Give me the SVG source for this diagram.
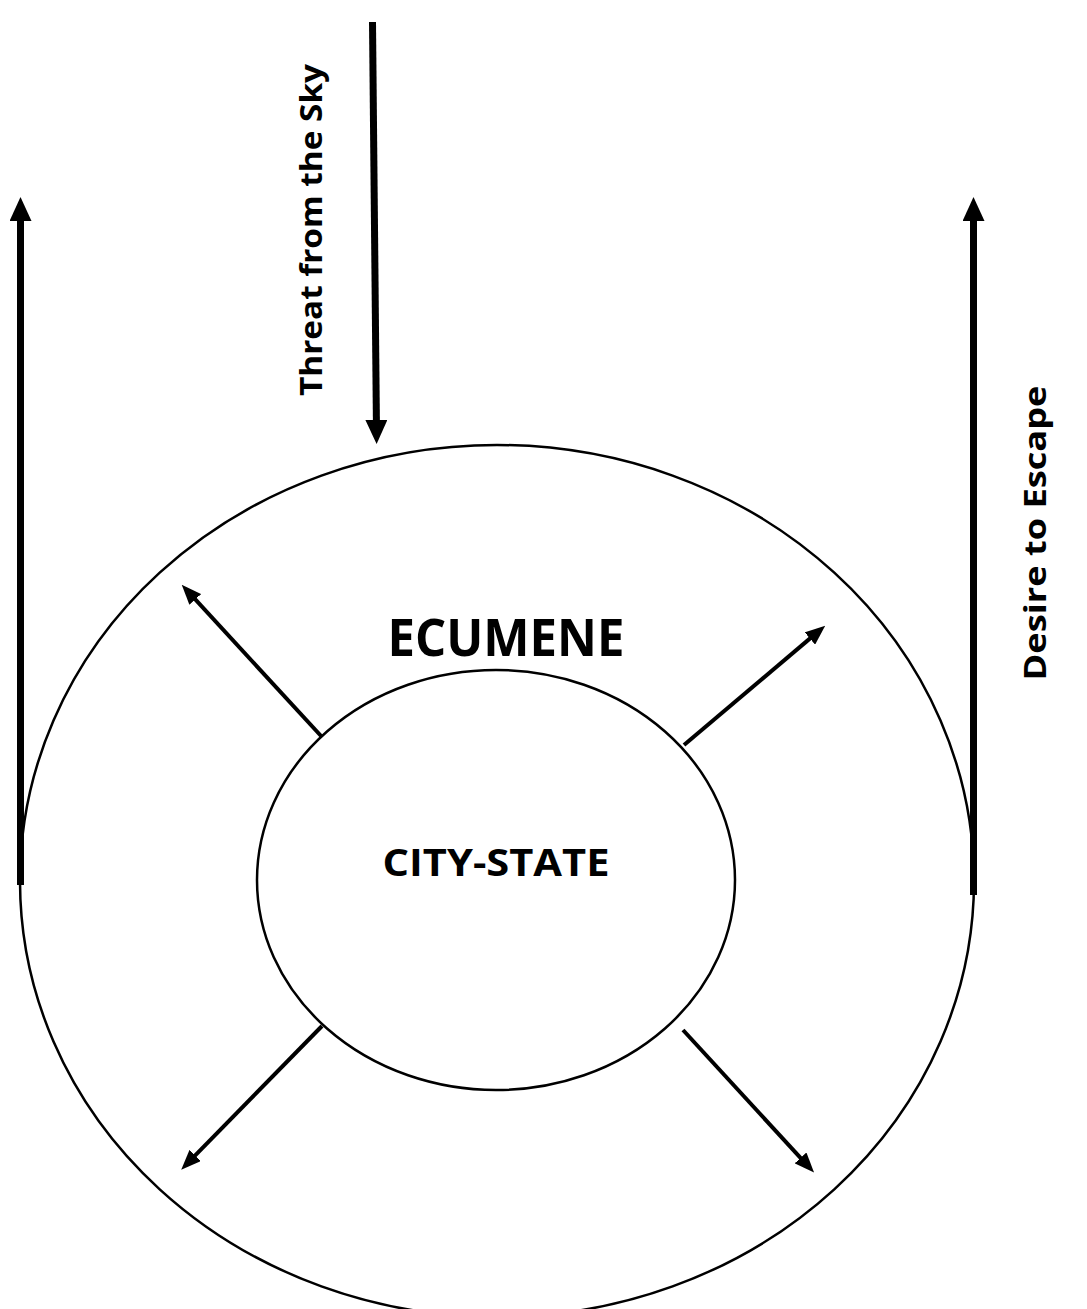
<svg xmlns="http://www.w3.org/2000/svg" width="1087" height="1309" viewBox="0 0 1087 1309">
<defs>
<style>
.ring{fill:none;stroke:#000;stroke-width:2.5}
.thick{fill:none;stroke:#000;stroke-width:7}
.thin{fill:none;stroke:#000;stroke-width:4}
.lbl{font-family:"Open Sans","Noto Sans","Liberation Sans",sans-serif;font-weight:700;fill:#000}
</style>
<marker id="bigHead" viewBox="0 -11 24 22" markerWidth="24" markerHeight="22" refX="1" refY="0" markerUnits="userSpaceOnUse" orient="auto">
<path d="M0,-11 L24,0 L0,11 z" fill="#000"/>
</marker>
<marker id="smallHead" viewBox="0 -8 20 16" markerWidth="20" markerHeight="16" refX="1" refY="0" markerUnits="userSpaceOnUse" orient="auto">
<path d="M0,-8 L20,0 L0,8 z" fill="#000"/>
</marker>
</defs>
<rect width="1087" height="1309" fill="#fff"/>
<g id="ecumene">
<ellipse class="ring" cx="497" cy="881" rx="477" ry="436"/>
<text class="lbl" x="506" y="656" font-size="52" text-anchor="middle" textLength="237" lengthAdjust="spacingAndGlyphs">ECUMENE</text>
</g>
<g id="city-state">
<ellipse class="ring" cx="496" cy="880" rx="239" ry="210"/>
<text class="lbl" x="496" y="876" font-size="38" text-anchor="middle" textLength="227" lengthAdjust="spacingAndGlyphs">CITY-STATE</text>
</g>
<g id="threat-label">
<text class="lbl" transform="translate(322,230) rotate(-90)" font-size="31" text-anchor="middle" textLength="332" lengthAdjust="spacingAndGlyphs">Threat from the Sky</text>
</g>
<g id="escape-label">
<text class="lbl" transform="translate(1046,533) rotate(-90)" font-size="31" text-anchor="middle" textLength="295" lengthAdjust="spacingAndGlyphs">Desire to Escape</text>
</g>
<g id="connectors">
<line class="thick" x1="372.5" y1="22" x2="376.4" y2="421" marker-end="url(#bigHead)"/>
<line class="thick" x1="20.5" y1="885" x2="20.5" y2="220" marker-end="url(#bigHead)"/>
<line class="thick" x1="973.5" y1="895" x2="973.5" y2="220" marker-end="url(#bigHead)"/>
<line class="thin" x1="322" y1="737" x2="194.6" y2="598.7" marker-end="url(#smallHead)"/>
<line class="thin" x1="684" y1="745" x2="810.7" y2="637.9" marker-end="url(#smallHead)"/>
<line class="thin" x1="322" y1="1026" x2="194.5" y2="1156.2" marker-end="url(#smallHead)"/>
<line class="thin" x1="683" y1="1030" x2="801.2" y2="1158.6" marker-end="url(#smallHead)"/>
</g>
</svg>
